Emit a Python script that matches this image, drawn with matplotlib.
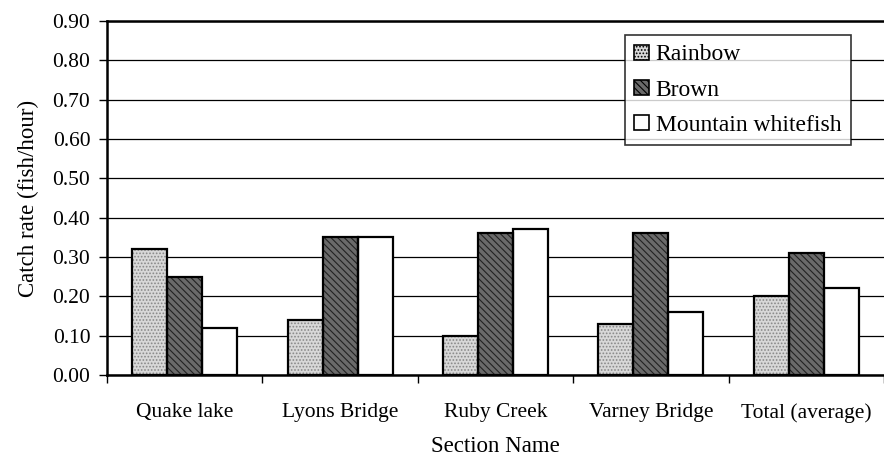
import matplotlib
matplotlib.use("Agg")
import matplotlib.pyplot as plt
import numpy as np
from matplotlib.patches import Patch

categories = ["Quake lake", "Lyons Bridge", "Ruby Creek", "Varney Bridge", "Total (average)"]
rainbow = [0.32, 0.14, 0.10, 0.13, 0.20]
brown = [0.25, 0.35, 0.36, 0.36, 0.31]
whitefish = [0.12, 0.35, 0.37, 0.16, 0.22]
series_names = ["Rainbow", "Brown", "Mountain whitefish"]
yticks = [0.0, 0.1, 0.2, 0.3, 0.4, 0.5, 0.6, 0.7, 0.8, 0.9]

plt.rcParams['font.family'] = ['Liberation Serif', 'DejaVu Serif']
plt.rcParams['hatch.linewidth'] = 0.8

fig = plt.figure(figsize=(8.84, 4.58), dpi=100)
ax = fig.add_axes([107/884, 1 - 375/458, (884 - 107)/884, (375 - 21)/458])

x = np.arange(len(categories))
w = 0.225
styles = [
    dict(facecolor='#d8d8d8', hatch='.....', edgecolor='#888888'),
    dict(facecolor='#6a6a6a', hatch='\\\\\\\\\\', edgecolor='#222222'),
    dict(facecolor='white', hatch=None, edgecolor='black'),
]
for i, (vals, st) in enumerate(zip([rainbow, brown, whitefish], styles)):
    ax.bar(x + (i - 1) * w, vals, w, facecolor=st['facecolor'],
           hatch=st['hatch'], edgecolor=st['edgecolor'], linewidth=0, zorder=3)
    ax.bar(x + (i - 1) * w, vals, w, facecolor='none', edgecolor='black',
           linewidth=1.6, zorder=4)

ax.set_ylim(0, 0.9)
ax.set_xlim(-0.5, 4.45)
ax.set_yticks(yticks)
ax.set_yticklabels([f"{v:.2f}" for v in yticks], fontsize=15.5)
ax.yaxis.grid(True, color='black', linewidth=0.9, zorder=0)
ax.set_axisbelow(True)

ax.set_xticks(np.arange(len(categories) + 1) - 0.5)
ax.set_xticklabels([])
ax.set_xticks(x, minor=True)
ax.set_xticklabels(categories, minor=True, fontsize=15.5)
ax.tick_params(axis='x', which='minor', length=0, pad=20)
ax.tick_params(axis='x', which='major', length=6, width=1, direction='out')
ax.tick_params(axis='y', length=6, width=1, direction='out', pad=6)

for s in ['left', 'bottom', 'top']:
    ax.spines[s].set_linewidth(1.8)
ax.spines['right'].set_visible(False)

ax.set_ylabel("Catch rate (fish/hour)", fontsize=16.5, labelpad=10)
ax.set_xlabel("Section Name", fontsize=16.5, labelpad=10)

handles = [Patch(facecolor=st['facecolor'], hatch=st['hatch'], edgecolor='black', linewidth=1.2)
           for st in styles]
leg = ax.legend(handles, series_names, loc='upper left',
                bbox_to_anchor=((625 - 107) / 777, (375 - 35) / 354),
                fontsize=17, frameon=True, fancybox=False, edgecolor='black',
                handlelength=0.6, handleheight=0.6, handletextpad=0.3,
                borderpad=0.4, labelspacing=0.6, borderaxespad=0)
leg.get_frame().set_linewidth(1.2)
leg.set_zorder(10)

fig.savefig("out.png", dpi=100)
